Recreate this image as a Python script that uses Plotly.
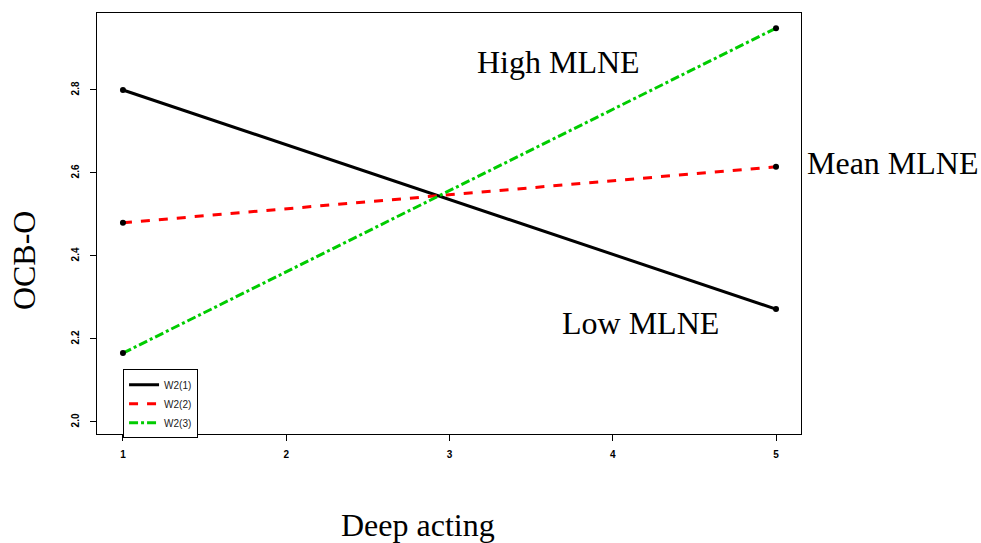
import plotly.graph_objects as go

x_vals = [1, 5]
series_names = ["W2(1)", "W2(2)", "W2(3)"]
low_vals = [2.80, 2.272]
mean_vals = [2.48, 2.615]
high_vals = [2.166, 2.949]
x_ticks = [1, 2, 3, 4, 5]
y_ticks = [2.0, 2.2, 2.4, 2.6, 2.8]

series = [low_vals, mean_vals, high_vals]
colors = ["black", "#ff0000", "#00cc00"]
dashes = ["solid", "dash", "dashdot"]

fig = go.Figure()
for name, vals, c, d in zip(series_names, series, colors, dashes):
    fig.add_trace(go.Scatter(x=x_vals, y=vals, mode="lines", name=name,
                             line=dict(color=c, width=3, dash=d)))
for vals in series:
    fig.add_trace(go.Scatter(x=x_vals, y=vals, mode="markers", showlegend=False,
                             marker=dict(color="black", size=6)))

ann_font = dict(family="Liberation Serif", size=32, color="black")
fig.add_annotation(x=3.665, y=2.867, text="High MLNE", showarrow=False, font=ann_font,
                   xanchor="center", yanchor="middle")
fig.add_annotation(x=1.1307, xref="paper", y=2.624, yref="y", text="Mean MLNE", showarrow=False,
                   font=ann_font, xanchor="center", yanchor="middle")
fig.add_annotation(x=4.168, y=2.2386, text="Low MLNE", showarrow=False, font=ann_font,
                   xanchor="center", yanchor="middle")
fig.add_annotation(x=2.808, xref="x", y=0, yref="paper", yshift=-91, text="Deep acting",
                   showarrow=False, font=ann_font, xanchor="center", yanchor="middle")
fig.add_annotation(x=0, xref="paper", xshift=-73, y=2.39, yref="y", text="OCB-O",
                   showarrow=False, textangle=-90, font=ann_font, xanchor="center", yanchor="middle")

tick_font = dict(family="Liberation Sans", size=10, color="black", weight="bold")
fig.update_xaxes(range=[0.841, 5.153], tickvals=x_ticks, ticktext=[str(t) for t in x_ticks],
                 ticks="outside", ticklen=6, tickcolor="black", showgrid=False, zeroline=False,
                 showline=True, linecolor="black", mirror=True, tickfont=tick_font,
                 ticklabelstandoff=5)
fig.update_yaxes(range=[1.971, 2.9855], tickvals=y_ticks, ticktext=[f"{t:.1f}" for t in y_ticks],
                 ticks="outside", ticklen=6, tickcolor="black", showgrid=False, zeroline=False,
                 showline=True, linecolor="black", mirror=True, tickfont=tick_font, tickangle=-90,
                 ticklabelstandoff=7)

fig.update_layout(
    width=981, height=543, plot_bgcolor="white", paper_bgcolor="white",
    margin=dict(l=97, r=180, t=13, b=109),
    legend=dict(x=0.037, y=0.154, xanchor="left", yanchor="top", bordercolor="black",
                borderwidth=1, bgcolor="white",
                font=dict(family="Liberation Sans", size=10, color="#222222"),
                tracegroupgap=0),
    showlegend=True,
)
fig.write_html("out.html")
